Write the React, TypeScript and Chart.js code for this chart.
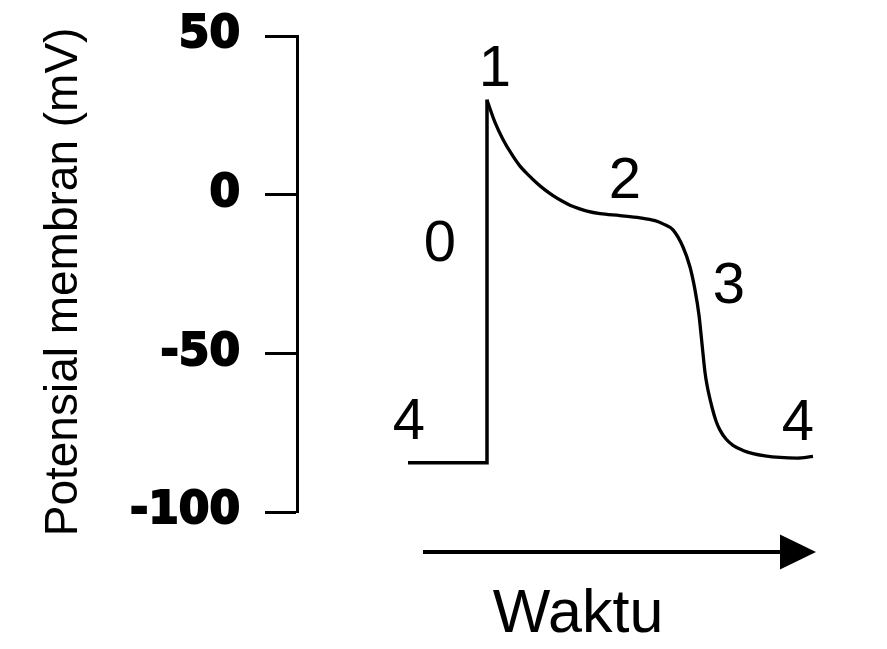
import React, { useEffect, useRef } from "react";
import { Chart, registerables } from "chart.js";

Chart.register(...registerables);

// Action potential trace (x: time units, y: membrane potential in mV)
const restUpstrokeX = [111, 190, 190];
const restUpstrokeY = [-84.5, -84.5, 30];

const curveX = [190, 198, 206, 215, 223, 232, 240, 248, 256, 265, 273, 282, 290, 303, 323, 343, 358, 366, 376, 386, 393, 398, 402, 405, 408, 410, 415, 419, 423, 429, 436, 446, 456, 468, 483, 500, 516];
const curveY = [29.8, 22.8, 17.4, 12.6, 9.0, 6.0, 3.6, 1.5, -0.3, -2.0, -3.3, -4.4, -5.2, -6.0, -6.6, -7.3, -8.2, -9.2, -11.1, -16.5, -22.8, -30, -38, -47, -56, -60, -67, -71.3, -74.2, -77, -79, -80.6, -81.6, -82.3, -82.8, -83.0, -82.5];

const yTicks = [50, 0, -50, -100];

// Phase labels
const phaseText = ["0", "1", "2", "3", "4", "4"];
const phaseX = [143, 198, 328, 432, 112, 501];
const phaseY = [-20.9, 34.2, -1.1, -34.1, -77.0, -77.3];

const yTitle = "Potensial membran (mV)";
const yTitleCenter = -27.5;
const xTitle = "Waktu";
const xTitlePos = { x: 281, y: -137.8 };
const arrow = { x0: 126, x1: 519, head: 483, y: -112.6 };

export default function App() {
  const ref = useRef<HTMLCanvasElement | null>(null);

  useEffect(() => {
    document.body.style.margin = "0";
    const canvas = ref.current!;
    const overlay = {
      id: "overlay",
      afterDraw(chart: any) {
        const ctx = chart.ctx as CanvasRenderingContext2D;
        const xs = chart.scales.x;
        const ys = chart.scales.y;
        ctx.save();
        ctx.fillStyle = "#000";
        ctx.font = '58px "Liberation Sans", Arial, sans-serif';
        ctx.textAlign = "center";
        ctx.textBaseline = "alphabetic";
        phaseText.forEach((t, i) => {
          ctx.fillText(t, xs.getPixelForValue(phaseX[i]), ys.getPixelForValue(phaseY[i]));
        });
        ctx.font = '61px "Liberation Sans", Arial, sans-serif';
        ctx.fillText(xTitle, xs.getPixelForValue(xTitlePos.x), ys.getPixelForValue(xTitlePos.y));
        // y axis title
        ctx.save();
        ctx.translate(ys.left + 64, ys.getPixelForValue(yTitleCenter));
        ctx.rotate(-Math.PI / 2);
        ctx.font = '46px "Liberation Sans", Arial, sans-serif';
        ctx.textBaseline = "middle";
        ctx.fillText(yTitle, 0, 0);
        ctx.restore();
        // arrow
        const ay = ys.getPixelForValue(arrow.y);
        const ax0 = xs.getPixelForValue(arrow.x0);
        const ax1 = xs.getPixelForValue(arrow.x1);
        const ah = xs.getPixelForValue(arrow.head);
        ctx.strokeStyle = "#000";
        ctx.lineWidth = 4;
        ctx.beginPath();
        ctx.moveTo(ax0, ay);
        ctx.lineTo(ah + 2, ay);
        ctx.stroke();
        ctx.beginPath();
        ctx.moveTo(ah, ay - 17.5);
        ctx.lineTo(ax1, ay);
        ctx.lineTo(ah, ay + 17.5);
        ctx.closePath();
        ctx.fill();
        ctx.restore();
      },
    };

    const chart = new Chart(canvas, {
      type: "line",
      data: {
        datasets: [
          {
            data: restUpstrokeX.map((x, i) => ({ x, y: restUpstrokeY[i] })),
            borderColor: "#000",
            borderWidth: 3.5,
            pointRadius: 0,
            tension: 0,
            borderJoinStyle: "miter",
          },
          {
            data: curveX.map((x, i) => ({ x, y: curveY[i] })),
            borderColor: "#000",
            borderWidth: 3.3,
            pointRadius: 0,
            cubicInterpolationMode: "monotone",
          },
        ],
      },
      options: {
        responsive: false,
        animation: false,
        devicePixelRatio: 1,
        layout: { padding: { left: 0, top: 36, right: 70, bottom: 137 } },
        plugins: { legend: { display: false }, tooltip: { enabled: false } },
        scales: {
          x: { type: "linear", min: 0, max: 520, display: false },
          y: {
            type: "linear",
            min: -100,
            max: 50,
            afterBuildTicks: (axis: any) => {
              axis.ticks = yTicks.map((v) => ({ value: v }));
            },
            afterFit: (axis: any) => {
              axis.width = 297;
              axis.paddingTop = 0;
              axis.paddingBottom = 0;
            },
            border: { display: true, color: "#000", width: 3 },
            grid: {
              drawOnChartArea: false,
              drawTicks: true,
              tickLength: 32,
              tickWidth: 3,
              tickColor: "#000",
              color: "#000",
            },
            ticks: {
              color: "#000",
              padding: 25,
              textStrokeColor: "#000",
              textStrokeWidth: 2,
              font: { family: '"DejaVu Sans", sans-serif', size: 44, weight: "bold" },
            },
            title: { display: false },
          },
        },
      },
      plugins: [overlay],
    });
    return () => chart.destroy();
  }, []);

  return (
    <div style={{ width: 887, height: 649 }}>
      <canvas ref={ref} width={887} height={649} />
    </div>
  );
}
